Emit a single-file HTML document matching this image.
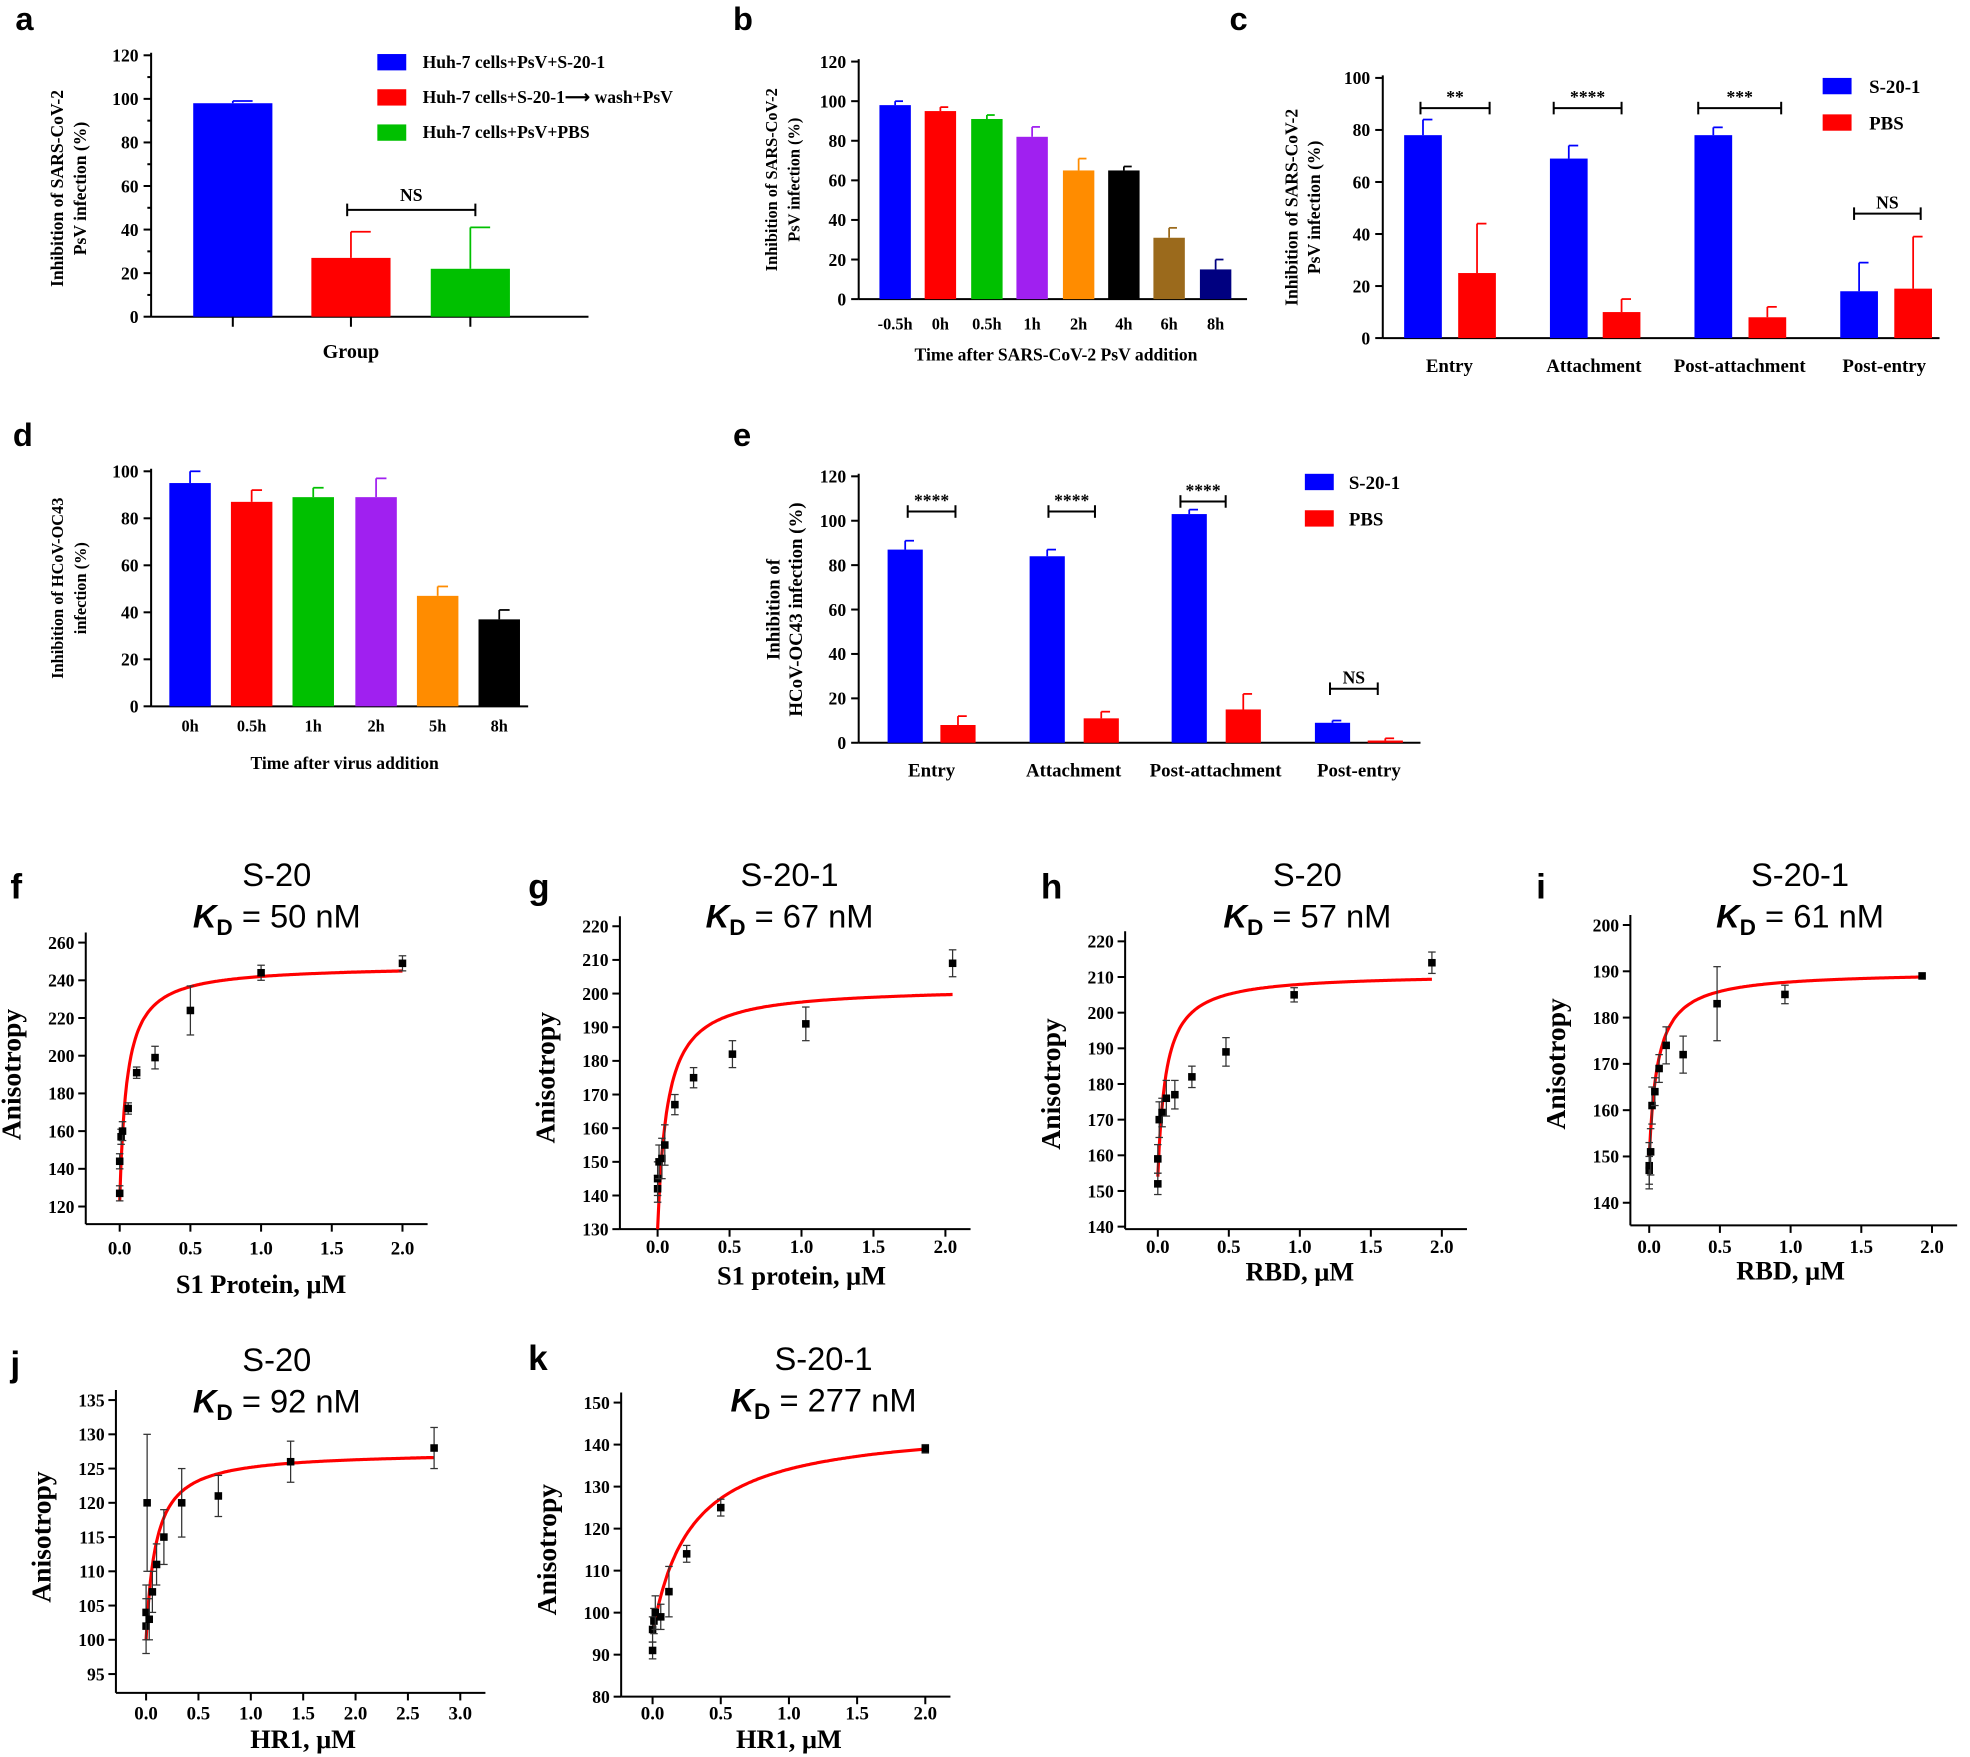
<!DOCTYPE html>
<html><head><meta charset="utf-8"><style>
html,body{margin:0;padding:0;background:#fff;}
svg{display:block}
.s{font-family:"Liberation Serif",serif;font-weight:bold;}
.p{font-family:"Liberation Sans",sans-serif;}
</style></head><body>
<svg id="g" width="1970" height="1757" viewBox="0 0 1567 1398" xmlns="http://www.w3.org/2000/svg"></svg>
<script>
const S=document.getElementById('g');let h='';
function L(x1,y1,x2,y2,c='#000',w=1.6){h+=`<line x1="${x1}" y1="${y1}" x2="${x2}" y2="${y2}" stroke="${c}" stroke-width="${w}"/>`;}
function T(x,y,t,sz,cls='s',anc='middle',extra=''){h+=`<text x="${x}" y="${y}" font-size="${sz}" class="${cls}" text-anchor="${anc}" ${extra}>${t}</text>`;}
function R(x,y,w,hh,c){h+=`<rect x="${x}" y="${y}" width="${w}" height="${hh}" fill="${c}"/>`;}
function bar(ax){
 L(ax.x,ax.ytop-2,ax.x,ax.y0);L(ax.x,ax.y0,ax.xend,ax.y0);
 for(let v=0;v<=ax.vmax;v+=ax.step){let y=ax.y0-(ax.y0-ax.ytop)*v/ax.vmax;L(ax.x-6,y,ax.x,y);T(ax.x-10,y+5,v,14,'s','end');}
 if(ax.minor)for(let v=ax.step/2;v<ax.vmax;v+=ax.step){let y=ax.y0-(ax.y0-ax.ytop)*v/ax.vmax;L(ax.x-3,y,ax.x,y);}
}
function bars(ax,list,w){
 const sc=(ax.y0-ax.ytop)/ax.vmax;
 list.forEach(b=>{const[cx,v,e,c]=b;const yt=ax.y0-v*sc;R(cx-w/2,yt,w,v*sc,c);
  if(e){const ye=ax.y0-(v+e)*sc;L(cx,yt,cx,ye,c,1.4);L(cx,ye,cx+w/4,ye,c,1.4);}});
}
function br(x1,x2,y,t){L(x1,y,x2,y);L(x1,y-5,x1,y+5);L(x2,y-5,x2,y+5);T((x1+x2)/2,y-4,t,14);}
function ylab(x,y,lines,sz=14){lines.forEach((l,i)=>T(0,0,l,sz,'s','middle',`transform="translate(${x+i*18},${y}) rotate(-90)"`));}
// panel a
T(12,24,'a',26,'p','start','font-weight="bold"');
let A={x:120,y0:252,ytop:44,vmax:120,step:20,xend:468,minor:1};bar(A);
bars(A,[[185,98,1,'#0000ff'],[279,27,12,'#ff0000'],[374,22,19,'#00c000']],63);
[185,279,374].forEach(x=>L(x,252,x,260));
br(276,378,167,'');T(327,160,'NS',14);
T(279,285,'Group',16);ylab(50,150,['Inhibition of SARS-CoV-2','PsV infection (%)']);
[['#0000ff','Huh-7 cells+PsV+S-20-1'],['#ff0000','Huh-7 cells+S-20-1⟶ wash+PsV'],['#00c000','Huh-7 cells+PsV+PBS']].forEach((l,i)=>{R(300,49+i*28-6,23,13,l[0]);T(336,49+i*28+5,l[1],14,'s','start');});
// panel b
T(583,24,'b',26,'p','start','font-weight="bold"');
let B={x:683,y0:238,ytop:49,vmax:120,step:20,xend:992};bar(B);
const bc=[712,748,785,821,858,894,930,967],bv=[98,95,91,82,65,65,31,15],be=[2,2,2,5,6,2,5,5],bcol=['#0000ff','#ff0000','#00c000','#a020f0','#ff8c00','#000','#9b6a1c','#000080'],bl=['-0.5h','0h','0.5h','1h','2h','4h','6h','8h'];
bars(B,bc.map((c,i)=>[c,bv[i],be[i],bcol[i]]),25);bc.forEach((c,i)=>T(c,262,bl[i],13));
T(840,287,'Time after SARS-CoV-2 PsV addition',14);ylab(618,143,['Inhibition of SARS-CoV-2','PsV infection (%)'],13);
// panel c
T(978,24,'c',26,'p','start','font-weight="bold"');
let C={x:1100,y0:269,ytop:62,vmax:100,step:20,xend:1543};bar(C);
bars(C,[[1132,78,6,'#0000ff'],[1248,69,5,'#0000ff'],[1363,78,3,'#0000ff'],[1479,18,11,'#0000ff'],[1175,25,19,'#ff0000'],[1290,10,5,'#ff0000'],[1406,8,4,'#ff0000'],[1522,19,20,'#ff0000']],30);
br(1130,1185,86,'**');br(1236,1290,86,'****');br(1351,1417,86,'***');br(1475,1528,170,'NS');
[['Entry',1153],['Attachment',1268],['Post-attachment',1384],['Post-entry',1499]].forEach(l=>T(l[1],296,l[0],15));
ylab(1032,165,['Inhibition of SARS-CoV-2','PsV infection (%)']);
R(1450,62,23,13,'#0000ff');T(1487,74,'S-20-1',15,'s','start');R(1450,91,23,13,'#ff0000');T(1487,103,'PBS',15,'s','start');
// panel d
T(10,355,'d',26,'p','start','font-weight="bold"');
let D={x:120,y0:562,ytop:375,vmax:100,step:20,xend:420};bar(D);
const dc=[151,200,249,299,348,397],dv=[95,87,89,89,47,37],de=[5,5,4,8,4,4],dcol=['#0000ff','#ff0000','#00c000','#a020f0','#ff8c00','#000'],dl=['0h','0.5h','1h','2h','5h','8h'];
bars(D,dc.map((c,i)=>[c,dv[i],de[i],dcol[i]]),33);dc.forEach((c,i)=>T(c,582,dl[i],13));
T(274,612,'Time after virus addition',14);ylab(50,468,['Inhibition of HCoV-OC43','infection (%)'],13);
// panel e
T(583,355,'e',26,'p','start','font-weight="bold"');
let E={x:683,y0:591,ytop:379,vmax:120,step:20,xend:1130};bar(E);
bars(E,[[720,87,4,'#0000ff'],[833,84,3,'#0000ff'],[946,103,2,'#0000ff'],[1060,9,1,'#0000ff'],[762,8,4,'#ff0000'],[876,11,3,'#ff0000'],[989,15,7,'#ff0000'],[1102,1,1,'#ff0000']],28);
br(722,760,407,'****');br(834,871,407,'****');br(939,975,399,'****');br(1058,1096,548,'NS');
[['Entry',741],['Attachment',854],['Post-attachment',967],['Post-entry',1081]].forEach(l=>T(l[1],618,l[0],15));
ylab(620,485,['Inhibition of','HCoV-OC43 infection (%)'],15);
R(1038,377,23,13,'#0000ff');T(1073,389,'S-20-1',15,'s','start');R(1038,406,23,13,'#ff0000');T(1073,418,'PBS',15,'s','start');
// scatter panels
function sc(o){
 const X=v=>o.x0+(o.x1-o.x0)*v/o.xmax, Y=v=>o.yb-(o.yb-o.yt)*(v-o.vmin)/(o.vmax-o.vmin);
 T(o.lx,o.ly,o.letter,28,'p','start','font-weight="bold"');
 T(o.tx,o.ty,o.t1,26,'p');T(o.tx,o.ty+33,`<tspan font-style="italic" font-weight="bold">K</tspan><tspan font-size="18" font-weight="bold" dy="6">D</tspan><tspan dy="-6"> = ${o.kd} nM</tspan>`,26,'p');
 L(o.ax,o.yt-8,o.ax,o.axY);L(o.ax,o.axY,o.x1+20,o.axY);
 for(let v=o.vmin;v<=o.vmax;v+=o.vstep){const y=Y(v);L(o.ax-6,y,o.ax,y);T(o.ax-9,y+5,v,14,'s','end','font-weight="normal"');}
 for(let v=0;v<=o.xmax+1e-9;v+=o.xstep){const x=X(v);L(x,o.axY,x,o.axY+6);T(x,o.lbY+5,v.toFixed(1),15,'s','middle','font-weight="normal"');}
 T((o.x0+o.x1)/2,o.tiY+7,o.xl,21);
 T(0,0,'Anisotropy',22,'s','middle',`transform="translate(${o.ax-52},${(o.yt+o.yb)/2}) rotate(-90)"`);
 let d='';for(let i=0;i<=200;i++){const v=o.cend*(i/200);const y=o.c0+o.cb*v/(o.k+v);d+=(i?'L':'M')+X(v).toFixed(1)+' '+Y(y).toFixed(1);}
 h+=`<path d="${d}" stroke="#ff0000" stroke-width="2.5" fill="none"/>`;
 o.pts.forEach(p=>{const x=X(p[0]),y=Y(p[1]);if(p[2]){L(x,Y(p[1]-p[2]),x,Y(p[1]+p[2]),'#333',1);L(x-3,Y(p[1]-p[2]),x+3,Y(p[1]-p[2]),'#333',1);L(x-3,Y(p[1]+p[2]),x+3,Y(p[1]+p[2]),'#333',1);}R(x-3,y-3,6,6,'#000');});
}
sc({letter:'f',lx:8,ly:715,tx:220,ty:705,t1:'S-20',kd:50,ax:68,x0:95,x1:320,xmax:2,xstep:0.5,yt:750,yb:960,axY:974,lbY:993,tiY:1022,vmin:120,vmax:260,vstep:20,xl:'S1 Protein, μM',c0:123,cb:125,k:0.05,cend:2,
 pts:[[0,127,4],[0,144,4],[0.01,157,4],[0.02,160,5],[0.06,172,3],[0.12,191,3],[0.25,199,6],[0.5,224,13],[1,244,4],[2,249,4]]});
sc({letter:'g',lx:420,ly:715,tx:628,ty:705,t1:'S-20-1',kd:67,ax:493,x0:523,x1:752,xmax:2,xstep:0.5,yt:737,yb:978,axY:978,lbY:992,tiY:1015,vmin:130,vmax:220,vstep:10,xl:'S1 protein, μM',c0:130,cb:72,k:0.067,cend:2.05,
 pts:[[0,142,4],[0,145,5],[0.01,150,5],[0.03,151,6],[0.05,155,6],[0.12,167,3],[0.25,175,3],[0.52,182,4],[1.03,191,5],[2.05,209,4]]});
sc({letter:'h',lx:828,ly:715,tx:1040,ty:705,t1:'S-20',kd:57,ax:895,x0:921,x1:1147,xmax:2,xstep:0.5,yt:749,yb:976,axY:978,lbY:992,tiY:1012,vmin:140,vmax:220,vstep:10,xl:'RBD, μM',c0:154,cb:57,k:0.057,cend:1.93,
 pts:[[0,152,3],[0,159,4],[0.01,170,5],[0.03,172,4],[0.06,176,5],[0.12,177,4],[0.24,182,3],[0.48,189,4],[0.96,205,2],[1.93,214,3]]});
sc({letter:'i',lx:1222,ly:715,tx:1432,ty:705,t1:'S-20-1',kd:61,ax:1297,x0:1312,x1:1537,xmax:2,xstep:0.5,yt:736,yb:957,axY:975,lbY:992,tiY:1011,vmin:140,vmax:200,vstep:10,xl:'RBD, μM',c0:150,cb:40,k:0.061,cend:1.93,
 pts:[[0,147,3],[0,148,5],[0.01,151,5],[0.02,161,4],[0.04,164,3],[0.07,169,3],[0.12,174,4],[0.24,172,4],[0.48,183,8],[0.96,185,2],[1.93,189,0]]});
sc({letter:'j',lx:8,ly:1095,tx:220,ty:1091,t1:'S-20',kd:92,ax:92,x0:116,x1:366,xmax:3,xstep:0.5,yt:1114,yb:1332,axY:1347,lbY:1363,tiY:1384,vmin:95,vmax:135,vstep:5,xl:'HR1, μM',c0:100,cb:27.5,k:0.092,cend:2.75,
 pts:[[0,102,4],[0,104,4],[0.01,120,10],[0.03,103,3],[0.06,107,3],[0.1,111,3],[0.17,115,4],[0.34,120,5],[0.69,121,3],[1.38,126,3],[2.75,128,3]]});
sc({letter:'k',lx:420,ly:1090,tx:655,ty:1090,t1:'S-20-1',kd:277,ax:494,x0:519,x1:736,xmax:2,xstep:0.5,yt:1116,yb:1350,axY:1350,lbY:1363,tiY:1384,vmin:80,vmax:150,vstep:10,xl:'HR1, μM',c0:95,cb:50,k:0.277,cend:2,
 pts:[[0,91,2],[0,96,3],[0.01,98,3],[0.02,100,4],[0.06,99,3],[0.12,105,6],[0.25,114,2],[0.5,125,2],[2,139,1]]});
S.innerHTML=h;
</script>
</body></html>
